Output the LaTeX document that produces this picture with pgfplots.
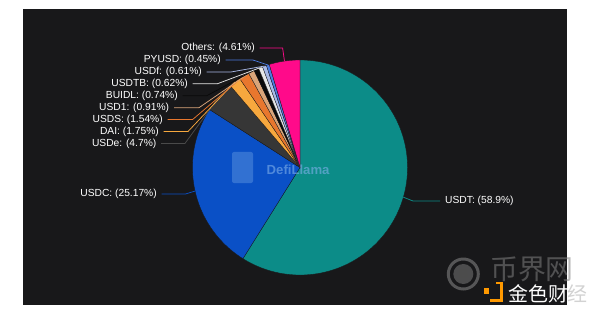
\documentclass[border=0pt]{standalone}
\usepackage{pgfplots}
\pgfplotsset{compat=1.18}
\usepackage{pgfplotstable}
\usepackage{fontspec}
\setmainfont{Liberation Sans}
\newfontfamily\cjk{Noto Sans CJK SC}
\definecolor{panel}{HTML}{18181A}
\definecolor{cUSDT}{HTML}{0C8C88}
\definecolor{cUSDC}{HTML}{0A50C6}
\definecolor{cUSDe}{HTML}{363636}
\definecolor{lUSDe}{HTML}{4A4A4A}
\definecolor{cDAI}{HTML}{F7A83E}
\definecolor{cUSDS}{HTML}{E8772E}
\definecolor{cUSD1}{HTML}{D9A57A}
\definecolor{cBUIDL}{HTML}{0A0A0A}
\definecolor{cUSDTB}{HTML}{E6E6E6}
\definecolor{cUSDf}{HTML}{A9B9E6}
\definecolor{cPYUSD}{HTML}{4B7BDF}
\definecolor{cOthers}{HTML}{FF0A8A}
\definecolor{wm}{HTML}{7FB0EA}
\tikzset{lab/.style={font=\fontsize{10.3}{12}\selectfont, text=white, inner sep=0pt}}

% share (%), slice colour, line colour, label y (px from top), label x, bend x, line end x, anchor
\pgfplotstableread{
name   pct    col      lc       ly     lx     bx     le     an
USDT   58.9   cUSDT    cUSDT    201    445    413    440    west
USDC   25.17  cUSDC    cUSDC    194    157    185.5  161.5  east
USDe   4.7    cUSDe    lUSDe    143.4  156.5  185    161    east
DAI    1.75   cDAI     cDAI     131.5  159    188    163.5  east
USDS   1.54   cUSDS    cUSDS    119.6  163    192.5  167.5  east
USD1   0.91   cUSD1    cUSD1    107.7  169.3  199    174    east
BUIDL  0.74   cBUIDL   cBUIDL   95.7   178    206.8  182.5  east
USDTB  0.62   cUSDTB   cUSDTB   83.8   188    217.3  192.5  east
USDf   0.61   cUSDf    cUSDf    71.9   202    231.5  206.5  east
PYUSD  0.45   cPYUSD   cPYUSD   59.9   221    252.6  225.5  east
Others 4.61   cOthers  cOthers  48     255    282.6  259.5  east
}\piedata

\begin{document}
\begin{tikzpicture}
\begin{axis}[width=600bp, height=314bp, scale only axis,
  xmin=0, xmax=600, ymin=0, ymax=314, hide axis, clip=false]
\fill[white] (axis cs:0,0) rectangle (axis cs:600,314);
\fill[panel] (axis cs:22.7,9.5) rectangle (axis cs:567,305);
% slices
\def\cum{0}
\pgfplotsforeachungrouped \i in {0,...,10}{%
  \pgfplotstablegetelem{\i}{pct}\of\piedata \let\p\pgfplotsretval
  \pgfplotstablegetelem{\i}{col}\of\piedata \let\c\pgfplotsretval
  \pgfmathsetmacro\a{90-3.6*\cum}
  \pgfmathsetmacro\b{90-3.6*(\cum+\p)}
  \edef\temp{\noexpand\addplot[fill=\c, draw=panel, line width=0.3pt, domain=\b:\a, samples=100]
    ({300+107.5*cos(x)},{146.5+107.5*sin(x)}) -- (axis cs:300,146.5) -- cycle;}
  \temp
  \pgfmathsetmacro\cum{\cum+\p}
}
% leader lines and labels
\def\cum{0}
\pgfplotsforeachungrouped \i in {0,...,10}{%
  \pgfplotstablegetelem{\i}{name}\of\piedata \let\nm\pgfplotsretval
  \pgfplotstablegetelem{\i}{pct}\of\piedata \let\p\pgfplotsretval
  \pgfplotstablegetelem{\i}{lc}\of\piedata \let\lc\pgfplotsretval
  \pgfplotstablegetelem{\i}{ly}\of\piedata \let\ly\pgfplotsretval
  \pgfplotstablegetelem{\i}{lx}\of\piedata \let\lx\pgfplotsretval
  \pgfplotstablegetelem{\i}{bx}\of\piedata \let\bx\pgfplotsretval
  \pgfplotstablegetelem{\i}{le}\of\piedata \let\le\pgfplotsretval
  \pgfplotstablegetelem{\i}{an}\of\piedata \let\an\pgfplotsretval
  \pgfmathsetmacro\m{90-3.6*(\cum+\p/2)}
  \pgfmathsetmacro\ex{300+107.5*cos(\m)}
  \pgfmathsetmacro\ey{146.5+107.5*sin(\m)}
  \pgfmathsetmacro\yy{314-\ly}
  \edef\temp{\noexpand\draw[\lc, line width=0.75pt] (axis cs:\ex,\ey) -- (axis cs:\bx,\yy) -- (axis cs:\le,\yy);
    \noexpand\node[lab, anchor=\an] at (axis cs:\lx,\yy) {\nm: (\p\noexpand\%)};}
  \temp
  \pgfmathsetmacro\cum{\cum+\p}
}
% DefiLlama watermark
\fill[wm, opacity=0.35, rounded corners=2pt] (axis cs:232,131) rectangle (axis cs:253,162);
\node[font=\bfseries\fontsize{13.2}{14}\selectfont, text=wm, opacity=0.6, anchor=west, inner sep=0pt] at (axis cs:266.5,144.7) {DefiLlama};
% source watermarks
\draw[gray, line width=3pt, opacity=0.6] (axis cs:463.3,40) circle[radius=15bp];
\fill[gray, opacity=0.5] (axis cs:463.3,40) circle[radius=10bp];
\node[font=\bfseries\fontsize{13}{13}\selectfont, text=black!70, opacity=0.7] at (axis cs:463.3,40) {B};
\node[font=\cjk\fontsize{28}{28}\selectfont, text=gray, opacity=0.55, anchor=west, inner sep=0pt] at (axis cs:490,45) {币界网};
\fill[orange!80!yellow] (axis cs:483.5,20.5) rectangle (axis cs:489,26);
\draw[orange!80!yellow, line width=3pt] (axis cs:490,13.5) -- (axis cs:501.5,13.5) -- (axis cs:501.5,31) -- (axis cs:496,31);
\node[font=\cjk\fontsize{20}{20}\selectfont, text=white, anchor=west, inner sep=0pt] at (axis cs:508,20.5) {金色财\textcolor{gray!35}{经}};
\end{axis}
\end{tikzpicture}
\end{document}
